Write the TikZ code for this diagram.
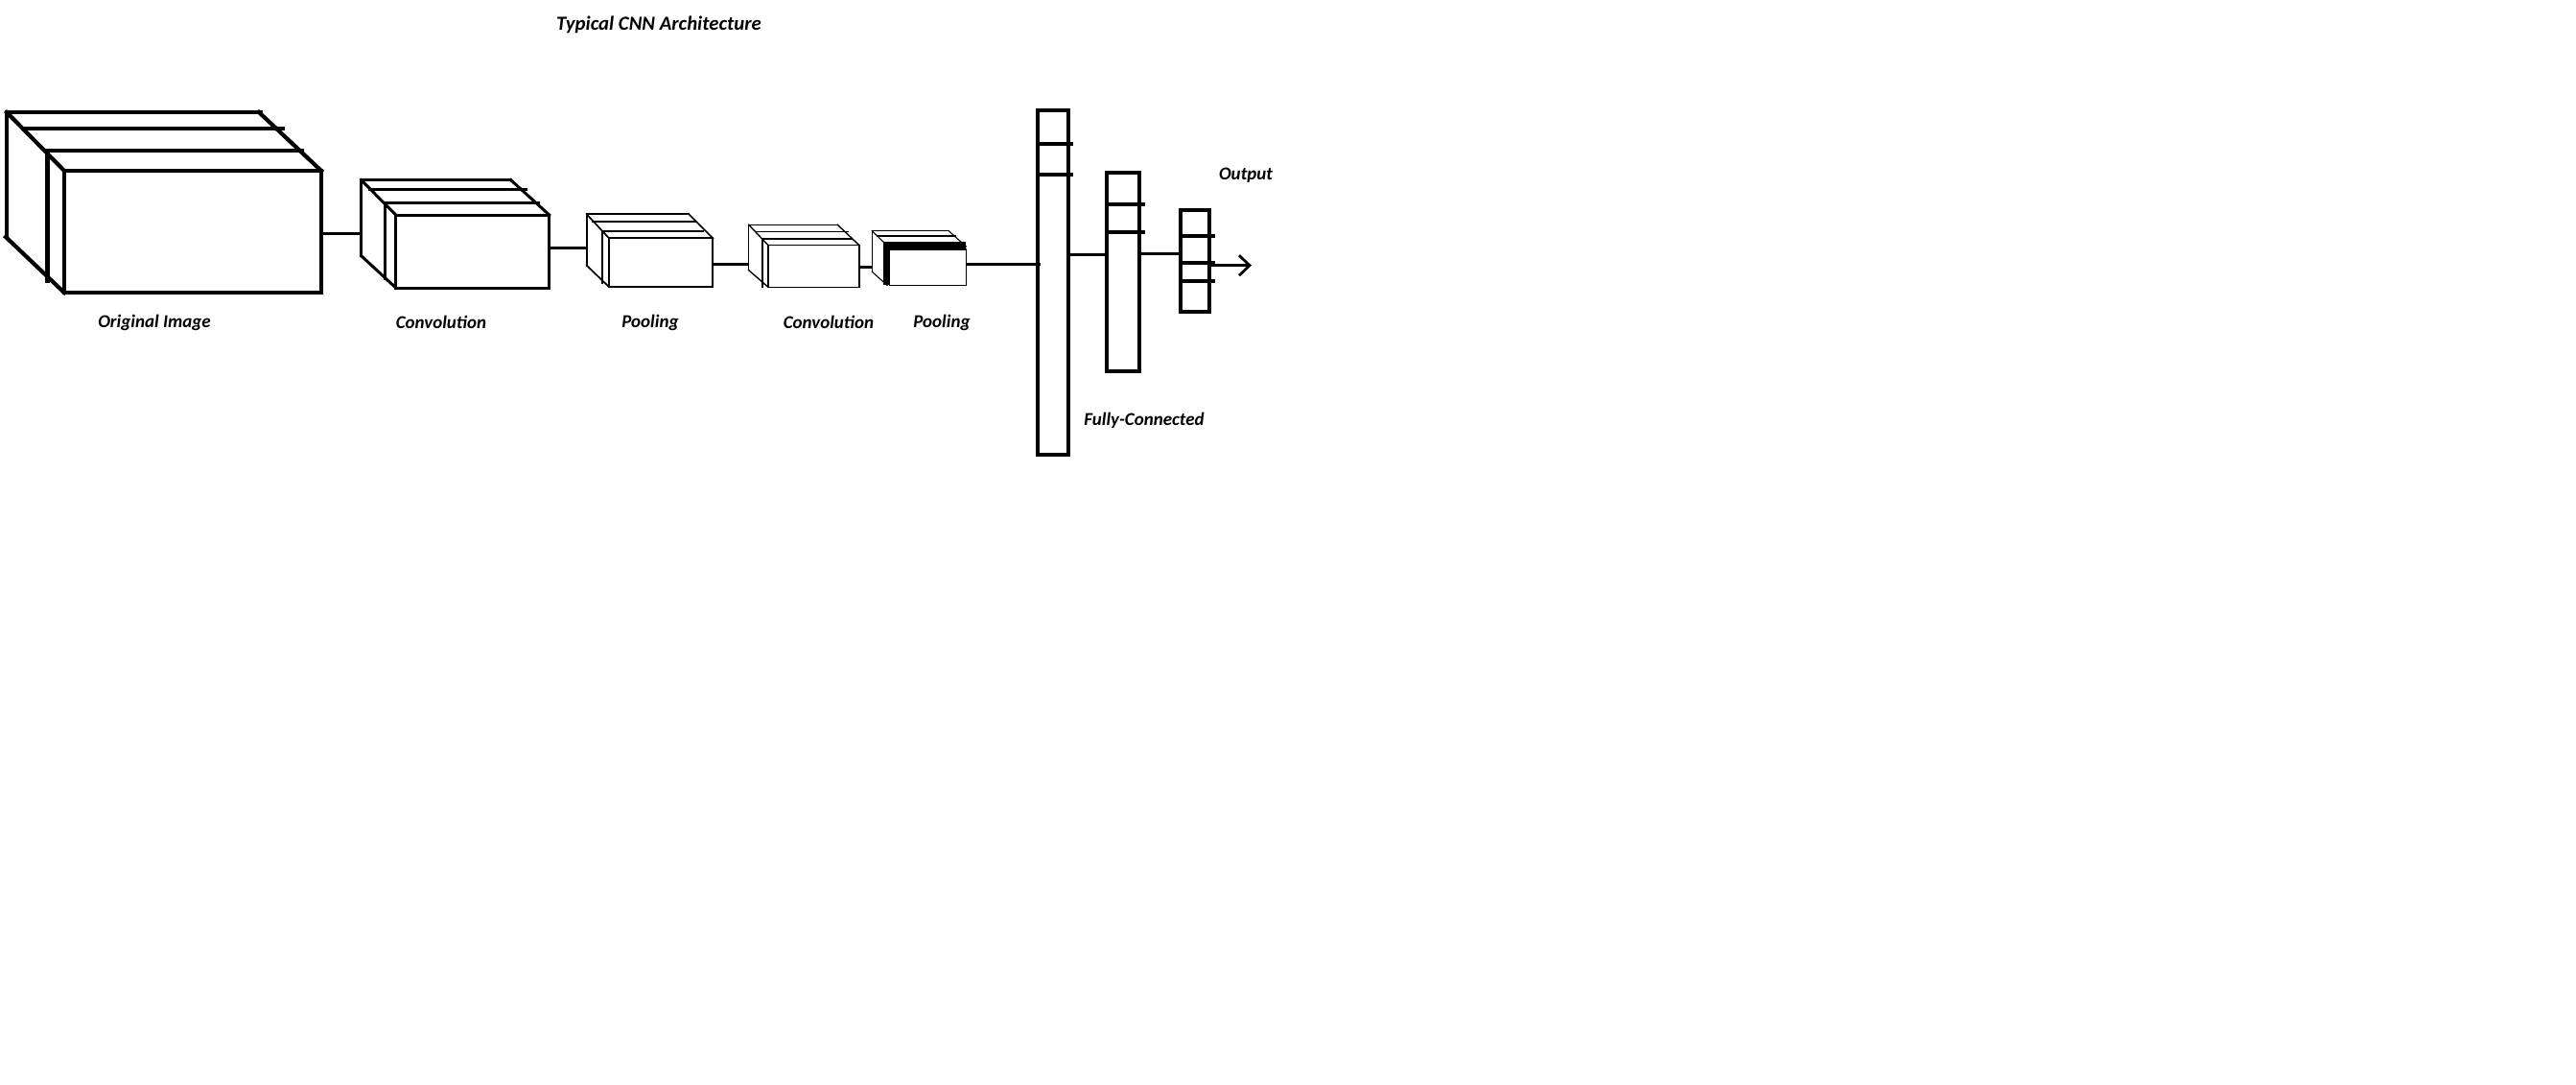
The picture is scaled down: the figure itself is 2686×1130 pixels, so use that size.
\documentclass[tikz,border=0pt]{standalone}
\usepackage{fontspec}
\setmainfont{Carlito}
\usetikzlibrary{arrows.meta}
\begin{document}
\begin{tikzpicture}[x=0.5pt,y=-0.5pt,
  lbl/.style={font=\bfseries\itshape\fontsize{9.5}{11}\selectfont, inner sep=0pt, anchor=center},
  ttl/.style={font=\bfseries\itshape\fontsize{10.4}{12}\selectfont, inner sep=0pt, anchor=center},
  wire/.style={line width=1.5pt},
  origbox/.style={line width=2.1pt, line cap=rect},
  convA/.style={line width=1.5pt, line cap=rect},
  poolA/.style={line width=0.85pt, line cap=rect},
  convB/.style={line width=0.7pt, line cap=rect},
  poolB/.style={line width=0.55pt, line cap=rect},
  fcbox/.style={line width=2pt, line cap=rect}]
\useasboundingbox (0,0) rectangle (2686,1130);

% title and labels
\node[ttl] (title) at (687,26) {Typical CNN Architecture};
\node[lbl] (lorig) at (161,336) {Original Image};
\node[lbl] (lconv1) at (460,336) {Convolution};
\node[lbl] (lpool1) at (678,336) {Pooling};
\node[lbl] (lconv2) at (864,336) {Convolution};
\node[lbl] (lpool2) at (982,336) {Pooling};
\node[lbl] (lfc) at (1193,438) {Fully-Connected};
\node[lbl] (lout) at (1299,183) {Output};

% original image
\begin{scope}[origbox]
\draw (7,117) -- (272,117);
\draw (25,134) -- (295,134);
\draw (52,157) -- (315,157);
\draw (7,117) -- (7,247);
\draw (49.5,157) -- (49.5,293);
\draw (7,117) -- (67,178);
\draw (6,247) -- (67,305);
\draw (270,117) -- (335,178);
\draw (67,178) rectangle (335,305);
\end{scope}

% convolution 1
\begin{scope}[convA]
\draw (376.7,187.7) -- (532.7,187.7);
\draw (385,197.3) -- (548,197.3);
\draw (401.7,211.7) -- (561.7,211.7);
\draw (376.7,187.7) -- (376.7,266.7);
\draw (401.7,211.7) -- (401.7,290.7);
\draw (376.7,187.7) -- (412.7,224);
\draw (376.7,266.7) -- (412.7,300);
\draw (532.7,187.7) -- (572.7,224);
\draw (412.7,224) rectangle (572.7,300);
\end{scope}

% pooling 1
\begin{scope}[poolA]
\draw (611.7,223.3) -- (718.3,223.3);
\draw (618.3,230.7) -- (725,230.7);
\draw (628.3,241) -- (733.3,241);
\draw (611.7,223.3) -- (611.7,276.7);
\draw (628.3,241) -- (628.3,295);
\draw (611.7,223.3) -- (635,248.3);
\draw (611.7,276.7) -- (635,299);
\draw (718.3,223.3) -- (743.3,248.3);
\draw (635,248.3) rectangle (743.3,299);
\end{scope}

% convolution 2
\begin{scope}[convB]
\draw (780.7,234.3) -- (873.3,234.3);
\draw (788.3,241.7) -- (884,241.7);
\draw (794.3,249) -- (888.3,249);
\draw (780.7,234.3) -- (780.7,281.7);
\draw (795,249) -- (795,299);
\draw (780.7,234.3) -- (801,255.7);
\draw (780.7,281.7) -- (801,299.3);
\draw (873.3,234.3) -- (896,255.7);
\draw (801,255.7) rectangle (896,299.3);
\end{scope}

% pooling 2
\fill (920.7,251.7) rectangle (1007.3,260);
\fill (920.7,251.7) rectangle (927.3,297.3);
\begin{scope}[poolB]
\draw (909.3,240.7) -- (989.3,240.7);
\draw (915,246) -- (996.7,246);
\draw (909.3,240.7) -- (909.3,283.3);
\draw (909.3,240.7) -- (921,252);
\draw (909.3,283.3) -- (925,297.3);
\draw (989.3,240.7) -- (1007.3,257);
\draw (927.3,260) rectangle (1007.3,297.3);
\end{scope}

% fully connected layers
\begin{scope}[fcbox]
\draw (1082,114.7) rectangle (1113.7,473.7);
\draw (1082,150) -- (1117,150);
\draw (1082,181.7) -- (1117,181.7);
\draw (1153.7,179.7) rectangle (1188,387);
\draw (1153.7,213.3) -- (1191.7,213.3);
\draw (1153.7,242.3) -- (1191.7,242.3);
\draw (1231,218.7) rectangle (1261,324.7);
\draw (1231,246) -- (1265,246);
\draw (1231,274) -- (1265,274);
\draw (1231,293.3) -- (1265,293.3);
\end{scope}

% connector end points
\coordinate (o1) at (335,243);
\coordinate (c1a) at (378,243);
\coordinate (c1b) at (572.7,258.3);
\coordinate (p1a) at (612,258.3);
\coordinate (p1b) at (743.3,275);
\coordinate (c2a) at (781,275);
\coordinate (c2b) at (896,278.3);
\coordinate (p2a) at (910,278.3);
\coordinate (p2b) at (1007.3,275);
\coordinate (f1a) at (1085,275);
\coordinate (f1b) at (1113.7,265.7);
\coordinate (f2a) at (1153.7,265.7);
\coordinate (f2b) at (1188,264);
\coordinate (f3a) at (1232,264);
\coordinate (f3b) at (1261,276.7);
\coordinate (outp) at (1305,276.7);

% connectors
\draw[wire] (o1) -- (c1a);
\draw[wire] (c1b) -- (p1a);
\draw[wire] (p1b) -- (c2a);
\draw[wire] (c2b) -- (p2a);
\draw[wire] (p2b) -- (f1a);
\draw[wire] (f1b) -- (f2a);
\draw[wire] (f2b) -- (f3a);
\draw[line width=1.4pt, -{Straight Barb[length=5.5pt,width=10.5pt]}] (f3b) -- (outp);
\end{tikzpicture}
\end{document}
